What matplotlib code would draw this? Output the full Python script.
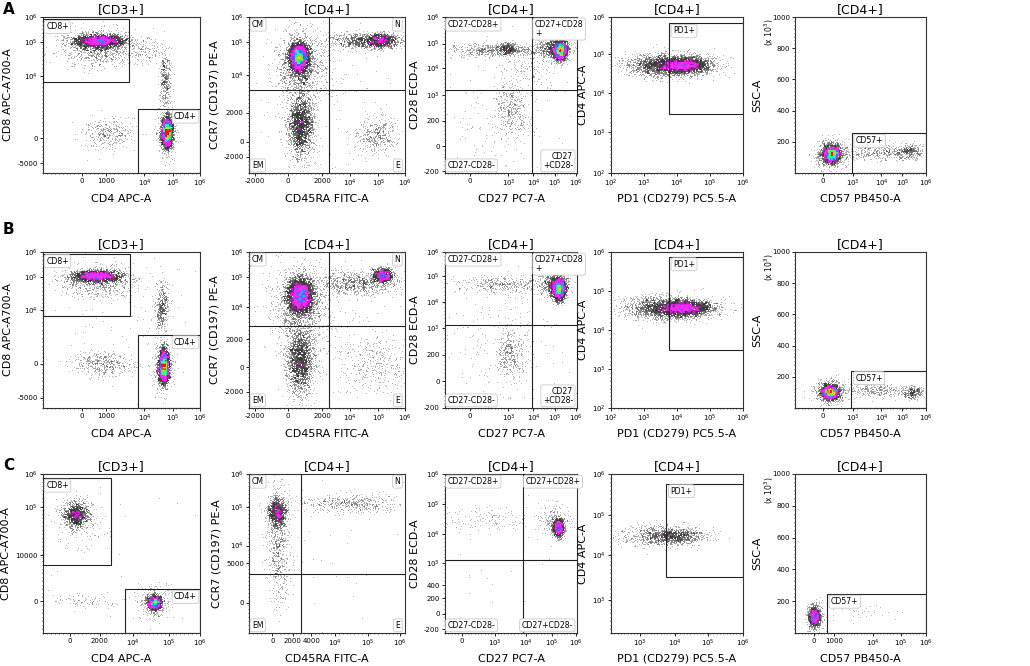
import numpy as np
import matplotlib
matplotlib.use('Agg')
import matplotlib.pyplot as plt
from matplotlib.colors import LinearSegmentedColormap
from matplotlib.patches import Rectangle
from matplotlib.ticker import MultipleLocator

# ---- chart content (axes are in display units 0..1, as on the cytometer plots) ----
row_letters = ['A', 'B', 'C']
titles = ['[CD3+]', '[CD4+]', '[CD4+]', '[CD4+]', '[CD4+]']
xlabels = ['CD4 APC-A', 'CD45RA FITC-A', 'CD27 PC7-A', 'PD1 (CD279) PC5.5-A', 'CD57 PB450-A']
ylabels = ['CD8 APC-A700-A', 'CCR7 (CD197) PE-A', 'CD28 ECD-A', 'CD4 APC-A', 'SSC-A']


def e(k):
    return r'$10^{%d}$' % k


# tick positions/labels per row, per column
xticks = [
    [[(0.247, '0'), (0.40, '1000'), (0.646, e(4)), (0.825, e(5)), (1.0, e(6))],
     [(0.04, '-2000'), (0.25, '0'), (0.47, '2000'), (0.65, e(4)), (0.83, e(5)), (1.0, e(6))],
     [(0.19, '0'), (0.48, e(3)), (0.67, e(4)), (0.83, e(5)), (0.99, e(6))],
     [(0.0, e(2)), (0.25, e(3)), (0.5, e(4)), (0.75, e(5)), (1.0, e(6))],
     [(0.21, '0'), (0.44, e(3)), (0.66, e(4)), (0.82, e(5)), (1.0, e(6))]],
    [[(0.247, '0'), (0.40, '1000'), (0.646, e(4)), (0.825, e(5)), (1.0, e(6))],
     [(0.04, '-2000'), (0.25, '0'), (0.47, '2000'), (0.65, e(4)), (0.83, e(5)), (1.0, e(6))],
     [(0.19, '0'), (0.48, e(3)), (0.67, e(4)), (0.83, e(5)), (0.99, e(6))],
     [(0.0, e(2)), (0.25, e(3)), (0.5, e(4)), (0.75, e(5)), (1.0, e(6))],
     [(0.21, '0'), (0.44, e(3)), (0.66, e(4)), (0.82, e(5)), (1.0, e(6))]],
    [[(0.17, '0'), (0.36, '2000'), (0.575, e(4)), (0.80, e(5)), (1.0, e(6))],
     [(0.15, '0'), (0.28, '2000'), (0.40, '4000'), (0.55, e(4)), (0.76, e(5)), (0.97, e(6))],
     [(0.13, '0'), (0.38, e(3)), (0.61, e(4)), (0.81, e(5)), (0.99, e(6))],
     [(0.22, e(3)), (0.485, e(4)), (0.735, e(5)), (1.0, e(6))],
     [(0.145, '0'), (0.30, '1000'), (0.595, e(4)), (0.81, e(5)), (1.0, e(6))]],
]
ssc_ticks = [(0.2, '200'), (0.4, '400'), (0.6, '600'), (0.8, '800'), (1.0, '1000')]
yticks = [
    [[(0.064, '-5000'), (0.224, '0'), (0.62, e(4)), (0.84, e(5)), (1.0, e(6))],
     [(0.105, '-2000'), (0.20, '0'), (0.385, '2000'), (0.63, e(4)), (0.84, e(5)), (1.0, e(6))],
     [(0.01, '-200'), (0.17, '0'), (0.335, '200'), (0.50, e(3)), (0.67, e(4)), (0.83, e(5)), (1.0, e(6))],
     [(0.0, e(2)), (0.26, e(3)), (0.51, e(4)), (0.76, e(5)), (1.0, e(6))],
     ssc_ticks],
    [[(0.065, '-5000'), (0.285, '0'), (0.63, e(4)), (0.84, e(5)), (1.0, e(6))],
     [(0.103, '-2000'), (0.26, '0'), (0.44, '2000'), (0.647, e(4)), (0.837, e(5)), (1.0, e(6))],
     [(0.0, '-200'), (0.17, '0'), (0.34, '200'), (0.51, e(3)), (0.68, e(4)), (0.845, e(5)), (1.0, e(6))],
     [(0.0, e(2)), (0.25, e(3)), (0.50, e(4)), (0.75, e(5)), (1.0, e(6))],
     ssc_ticks],
    [[(0.20, '0'), (0.49, '10000'), (0.79, e(5)), (1.0, e(6))],
     [(0.19, '0'), (0.44, '5000'), (0.55, e(4)), (0.79, e(5)), (1.0, e(6))],
     [(0.025, '-200'), (0.12, '0'), (0.22, '200'), (0.30, '400'), (0.44, e(3)), (0.62, e(4)), (0.81, e(5)), (1.0, e(6))],
     [(0.21, e(3)), (0.49, e(4)), (0.74, e(5)), (1.0, e(6))],
     ssc_ticks],
]

# gates: CD8+/CD4+ boxes (x0, y0, x1, y1)
cd8_gate = [(0.0, 0.585, 0.55, 0.985), (0.0, 0.59, 0.555, 0.99), (0.0, 0.425, 0.43, 0.975)]
cd4_gate = [(0.605, 0.0, 1.0, 0.41), (0.605, 0.0, 1.0, 0.47), (0.52, 0.0, 1.0, 0.275)]
ccr7_quad = [(0.51, 0.53), (0.51, 0.525), (0.335, 0.37)]
cd28_quad = [(0.66, 0.53), (0.66, 0.53), (0.59, 0.46)]
pd1_gate = [(0.44, 0.38, 1.0, 0.96), (0.44, 0.375, 1.0, 0.97), (0.42, 0.35, 1.0, 0.94)]
cd57_gate = [(0.435, 0.0, 1.0, 0.255), (0.43, 0.0, 1.0, 0.24), (0.245, 0.0, 1.0, 0.245)]
ccr7_names = ['CM', 'N', 'EM', 'E']
cd28_names = [['CD27-CD28+', 'CD27+CD28\n+', 'CD27-CD28-', 'CD27\n+CD28-'],
              ['CD27-CD28+', 'CD27+CD28\n+', 'CD27-CD28-', 'CD27\n+CD28-'],
              ['CD27-CD28+', 'CD27+CD28+', 'CD27-CD28-', 'CD27+CD28-']]

# cell populations per panel: (centre x, centre y, spread x, spread y, events)
pops = [
    [  # row A
        [(0.36, 0.845, 0.085, 0.022, 2600), (0.36, 0.80, 0.12, 0.06, 900),
         (0.79, 0.26, 0.016, 0.045, 3200), (0.79, 0.26, 0.03, 0.08, 500),
         (0.78, 0.60, 0.018, 0.10, 380), (0.42, 0.25, 0.08, 0.05, 380),
         (0.67, 0.79, 0.05, 0.04, 120)],
        [(0.32, 0.74, 0.03, 0.045, 4000), (0.33, 0.68, 0.08, 0.11, 1400),
         (0.74, 0.845, 0.13, 0.025, 900), (0.85, 0.85, 0.05, 0.022, 900),
         (0.33, 0.30, 0.04, 0.10, 2200), (0.82, 0.24, 0.07, 0.06, 450),
         (0.5, 0.5, 0.25, 0.25, 150)],
        [(0.875, 0.785, 0.025, 0.03, 2600), (0.83, 0.80, 0.06, 0.035, 900),
         (0.40, 0.785, 0.20, 0.022, 700), (0.48, 0.795, 0.035, 0.018, 300),
         (0.50, 0.40, 0.06, 0.08, 380), (0.45, 0.35, 0.25, 0.2, 220),
         (0.62, 0.66, 0.1, 0.07, 160)],
        [(0.45, 0.69, 0.16, 0.035, 3000), (0.55, 0.69, 0.09, 0.022, 2000)],
        [(0.28, 0.12, 0.03, 0.025, 2600), (0.28, 0.12, 0.06, 0.045, 800),
         (0.65, 0.13, 0.15, 0.025, 400), (0.88, 0.14, 0.05, 0.025, 300)],
    ],
    [  # row B
        [(0.34, 0.845, 0.08, 0.018, 2200), (0.35, 0.80, 0.11, 0.05, 700),
         (0.77, 0.265, 0.016, 0.05, 3200), (0.77, 0.265, 0.03, 0.08, 500),
         (0.76, 0.64, 0.02, 0.08, 450), (0.38, 0.285, 0.1, 0.04, 450),
         (0.6, 0.6, 0.25, 0.25, 120)],
        [(0.33, 0.72, 0.04, 0.055, 4000), (0.33, 0.66, 0.09, 0.12, 1400),
         (0.70, 0.80, 0.13, 0.04, 900), (0.86, 0.85, 0.03, 0.022, 1200),
         (0.33, 0.30, 0.045, 0.11, 2100), (0.80, 0.28, 0.1, 0.1, 400),
         (0.5, 0.5, 0.25, 0.25, 150)],
        [(0.865, 0.76, 0.025, 0.035, 2600), (0.83, 0.79, 0.05, 0.035, 800),
         (0.45, 0.79, 0.18, 0.03, 450), (0.50, 0.35, 0.05, 0.08, 400),
         (0.45, 0.40, 0.25, 0.22, 250)],
        [(0.45, 0.64, 0.17, 0.035, 2900), (0.56, 0.64, 0.09, 0.022, 1900)],
        [(0.27, 0.10, 0.03, 0.022, 2400), (0.27, 0.10, 0.06, 0.04, 700),
         (0.62, 0.11, 0.15, 0.02, 350), (0.90, 0.10, 0.04, 0.02, 300)],
    ],
    [  # row C
        [(0.21, 0.74, 0.04, 0.04, 1000), (0.22, 0.72, 0.08, 0.08, 250),
         (0.71, 0.19, 0.022, 0.022, 1400), (0.71, 0.19, 0.05, 0.05, 300),
         (0.28, 0.20, 0.09, 0.025, 100), (0.5, 0.5, 0.3, 0.3, 30)],
        [(0.18, 0.76, 0.03, 0.045, 1100), (0.19, 0.55, 0.035, 0.2, 700),
         (0.65, 0.81, 0.15, 0.03, 500), (0.4, 0.5, 0.3, 0.3, 40)],
        [(0.86, 0.66, 0.02, 0.028, 1100), (0.83, 0.70, 0.06, 0.05, 300),
         (0.32, 0.71, 0.18, 0.04, 150), (0.4, 0.4, 0.3, 0.3, 30)],
        [(0.40, 0.61, 0.17, 0.035, 900), (0.48, 0.61, 0.10, 0.022, 600)],
        [(0.15, 0.10, 0.022, 0.03, 1100), (0.15, 0.10, 0.035, 0.045, 250),
         (0.55, 0.12, 0.15, 0.03, 40)],
    ],
]

# ---- layout in pixels ----
W, H = 1030, 666
col_px = [(43, 200), (249, 405), (445, 577), (611, 743), (795, 926)]
row_px = [(17, 173), (252, 408), (474, 633)]
letter_y = [9, 230, 465]

density = LinearSegmentedColormap.from_list('kaluza', [
    (0.0, '#c8c8c8'), (0.04, '#8a8a8a'), (0.09, '#444444'), (0.13, '#383838'),
    (0.20, '#e020e0'), (0.33, '#ff30ff'), (0.45, '#3a5cff'), (0.56, '#20d8f0'),
    (0.68, '#40ff50'), (0.82, '#f8d020'), (0.93, '#ff2010'), (1.0, '#ff1010')])

label_box = dict(boxstyle='round,pad=0.25', fc='white', ec='#c8c8c8', lw=0.6)

plt.rcParams['font.family'] = ['DejaVu Sans']
fig = plt.figure(figsize=(W / 100, H / 100), dpi=100)


def dots(ax, plist, seed, pile_left=False):
    rng = np.random.default_rng(seed)
    x = np.concatenate([rng.normal(p[0], p[2], p[4]) for p in plist])
    y = np.concatenate([rng.normal(p[1], p[3], p[4]) for p in plist])
    if pile_left:
        x = np.clip(x, 0.004, None)
    ok = (x >= 0) & (x <= 1) & (y >= 0) & (y <= 1)
    x, y = x[ok], y[ok]
    nb = 90
    hist, _, _ = np.histogram2d(x, y, bins=nb, range=[[0, 1], [0, 1]])
    ix = np.clip((x * nb).astype(int), 0, nb - 1)
    iy = np.clip((y * nb).astype(int), 0, nb - 1)
    d = np.clip(hist[ix, iy] / 85.0, 0, 1)
    # dense on top, but loosely, so colours mix at the edges
    order = np.argsort(d + rng.uniform(0, 0.2, d.size))
    ax.scatter(x[order], y[order], c=d[order], cmap=density, vmin=0, vmax=1,
               s=0.45, marker='s', linewidths=0)


def tag(ax, x, y, s, ha='left', va='top'):
    ax.text(x, y, s, fontsize=5.6, ha=ha, va=va, bbox=label_box, zorder=5,
            linespacing=1.0)


for r in range(3):
    t, b = row_px[r]
    fig.text(3 / W, 1 - letter_y[r] / H, row_letters[r], fontsize=11,
             fontweight='bold', va='center', ha='left')
    for c in range(5):
        l, rr = col_px[c]
        ax = fig.add_axes([l / W, 1 - b / H, (rr - l) / W, (b - t) / H])
        ax.set_xlim(0, 1)
        ax.set_ylim(0, 1)
        dots(ax, pops[r][c], 11 + 7 * r + c, pile_left=(c == 3))

        xt = xticks[r][c]
        yt = yticks[r][c]
        ax.set_xticks([p for p, _ in xt], [s for _, s in xt])
        ax.set_yticks([p for p, _ in yt], [s for _, s in yt])
        ax.xaxis.set_minor_locator(MultipleLocator(0.025))
        ax.yaxis.set_minor_locator(MultipleLocator(0.025))
        ax.tick_params(which='major', labelsize=5, length=2.2, width=0.6, pad=1.5)
        ax.tick_params(which='minor', length=1.0, width=0.4)
        for sp in ax.spines.values():
            sp.set_linewidth(0.8)
            sp.set_color('#333333')

        ax.set_title(titles[c], fontsize=9, pad=2.5)
        ax.set_xlabel(xlabels[c], fontsize=8, labelpad=3)
        ax.set_ylabel(ylabels[c], fontsize=8, labelpad=3)

        if c == 0:
            for g, name, ha in ((cd8_gate[r], 'CD8+', 'left'), (cd4_gate[r], 'CD4+', 'right')):
                x0, y0, x1, y1 = g
                ax.add_patch(Rectangle((x0, y0), x1 - x0, y1 - y0, fill=False,
                                       ec='#222222', lw=0.8, zorder=4))
                if ha == 'left':
                    tag(ax, x0 + 0.02, y1 - 0.02, name)
                else:
                    tag(ax, x1 - 0.02, y1 - 0.02, name, ha='right')
        elif c in (1, 2):
            qx, qy = (ccr7_quad if c == 1 else cd28_quad)[r]
            ax.axvline(qx, color='#222222', lw=0.8, zorder=4)
            ax.axhline(qy, color='#222222', lw=0.8, zorder=4)
            names = ccr7_names if c == 1 else cd28_names[r]
            tag(ax, 0.02, 0.98, names[0])
            if c == 1:
                tag(ax, 0.97, 0.98, names[1], ha='right')
            else:
                tag(ax, qx + 0.02, 0.98, names[1])
            tag(ax, 0.02, 0.02, names[2], va='bottom')
            tag(ax, 0.97, 0.02, names[3], ha='right', va='bottom')
        else:
            x0, y0, x1, y1 = (pd1_gate if c == 3 else cd57_gate)[r]
            ax.add_patch(Rectangle((x0, y0), x1 - x0, y1 - y0, fill=False,
                                   ec='#222222', lw=0.8, zorder=4))
            tag(ax, x0 + 0.03, y1 - 0.02, 'PD1+' if c == 3 else 'CD57+')

        if c == 4:
            ax.text(-0.2, 0.9, r'(x 10$^3$)', rotation=90, fontsize=5.5,
                    ha='center', va='center', transform=ax.transAxes)
            ax.yaxis.set_label_coords(-0.25, 0.5)

fig.savefig('out.png', dpi=100)
